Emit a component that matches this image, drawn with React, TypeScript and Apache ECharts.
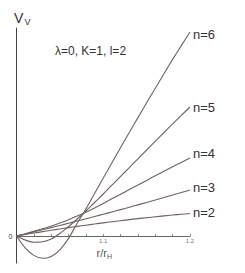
import React, { useEffect, useRef } from "react";
import * as echarts from "echarts";

// r / r_H sample positions
const rValues = [1.0, 1.01, 1.02, 1.03, 1.04, 1.05, 1.06, 1.07, 1.08, 1.09, 1.1, 1.11, 1.12, 1.13, 1.14, 1.15, 1.16, 1.17, 1.18, 1.19, 1.2];

// V_V values (arbitrary units)
const n2 = [0, 1.49, 2.93, 4.34, 5.72, 7.05, 8.35, 9.6, 10.82, 12.01, 13.15, 14.26, 15.32, 16.35, 17.35, 18.3, 19.22, 20.09, 20.93, 21.74, 22.5];
const n3 = [0, 2.06, 4.15, 6.26, 8.4, 10.56, 12.75, 14.96, 17.2, 19.46, 21.75, 24.06, 26.4, 28.76, 31.15, 33.56, 36.0, 38.46, 40.95, 43.46, 46.0];
const n4 = [0, 2.2, 4.6, 7.2, 10.0, 13.0, 16.3, 19.9, 23.8, 28.1, 32.6, 37.2, 41.8, 46.4, 51.0, 55.6, 60.2, 64.7, 69.2, 73.6, 78.0];
const n5 = [0, -4.0, -6.2, -5.8, -3.0, 2.5, 9.5, 17.0, 25.0, 33.5, 42.0, 50.8, 59.6, 68.4, 77.2, 86.0, 94.8, 103.5, 112.1, 120.6, 129.0];
const n6 = [0, -11.9, -19.4, -22.3, -20.4, -13.8, -2.4, 12.8, 27.0, 42.5, 57.9, 73.2, 88.4, 103.5, 118.4, 133.2, 147.8, 162.3, 176.6, 190.4, 204.0];

const seriesNames = ["n=2", "n=3", "n=4", "n=5", "n=6"];
const seriesValues = [n2, n3, n4, n5, n6];

const xTickLabels = [1.1, 1.2];
const xTicks = [1.02, 1.04, 1.06, 1.08, 1.1, 1.12, 1.14, 1.16, 1.18, 1.2];
const yTickLabels = [0];

const titleText = "λ=0, K=1, l=2";
const yName = ["V", "V"];
const xName = ["r/r", "H"];

const labelOffsets = [[0, -1], [0, -3], [0, -5], [0, 0], [0, 2]];

const FONT = "Liberation Sans, Arial, Helvetica, sans-serif";
const LINE = "#6f625e";
const TEXT = "#333333";

export default function App() {
  const ref = useRef<HTMLDivElement>(null);
  useEffect(() => {
    if (!ref.current) return;
    const chart = echarts.init(ref.current, undefined, { renderer: "svg" });
    chart.setOption({
      animation: false,
      grid: { left: 16.5, top: 28, width: 173.5, height: 235, outerBoundsMode: "none", containLabel: false },
      xAxis: {
        type: "value",
        min: 1.0,
        max: 1.2,
        position: "bottom",
        offset: -27,
        axisLine: { show: true, onZero: false, lineStyle: { color: "#666", width: 1 } },
        axisTick: { show: true, inside: true, length: 2, customValues: xTicks, lineStyle: { color: "#888" } },
        axisLabel: { customValues: xTickLabels, fontSize: 6, color: "#777", margin: 2, fontFamily: FONT, formatter: (v: number) => v.toFixed(1) },
        splitLine: { show: false },
      },
      yAxis: {
        type: "value",
        min: -27,
        max: 208,
        axisLine: { show: true, onZero: false, lineStyle: { color: "#444", width: 1 } },
        axisTick: { show: false },
        axisLabel: { customValues: yTickLabels, fontSize: 7, color: TEXT, margin: 4, fontFamily: FONT },
        splitLine: { show: false },
      },
      series: seriesNames.map((name, i) => ({
        name,
        type: "line",
        smooth: 0.3,
        showSymbol: false,
        symbol: "none",
        lineStyle: { color: LINE, width: 1.1 },
        data: rValues.map((r, j) => [r, seriesValues[i][j]]),
        endLabel: {
          show: true,
          formatter: name,
          color: TEXT,
          fontSize: 13,
          fontFamily: FONT,
          distance: 3,
          offset: labelOffsets[i],
        },
      })),
      graphic: [
        { type: "text", x: 55, y: 50.8, style: { text: titleText, font: `12px ${FONT}`, fill: TEXT, verticalAlign: "middle" } },
        { type: "text", x: 14, y: 18.4, style: { text: yName[0], font: `14px ${FONT}`, fill: TEXT, verticalAlign: "middle" } },
        { type: "text", x: 24.5, y: 21.8, style: { text: yName[1], font: `9px ${FONT}`, fill: TEXT, verticalAlign: "middle" } },
        { type: "text", x: 96.5, y: 252.8, style: { text: xName[0], font: `11px ${FONT}`, fill: "#555", verticalAlign: "middle" } },
        { type: "text", x: 107, y: 256.2, style: { text: xName[1], font: `7px ${FONT}`, fill: "#555", verticalAlign: "middle" } },
      ],
    });
    return () => chart.dispose();
  }, []);
  return <div ref={ref} style={{ position: "absolute", left: 0, top: 0, width: 245, height: 273, background: "#fff" }} />;
}
